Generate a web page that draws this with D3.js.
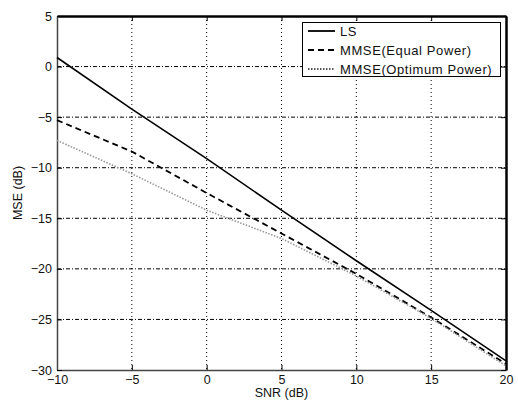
<!DOCTYPE html>
<html><head><meta charset="utf-8">
<script src="https://cdn.jsdelivr.net/npm/d3@7"></script>
<style>body{margin:0;background:#fff}svg{display:block}text{font-family:"Liberation Sans",Arial,sans-serif}</style>
</head><body><svg id="c" width="518" height="401"></svg>
<script>
const snr = [-10, -5, 0, 5, 10, 15, 20];
const mseLS = [0.9, -4.2, -9.1, -14.2, -19.2, -24.1, -29.1];
const mseEqual = [-5.3, -8.4, -12.5, -16.5, -20.5, -24.8, -29.4];
const mseOpt = [-7.3, -10.6, -14.2, -17.0, -20.7, -24.9, -29.6];
const xTicks = [-10, -5, 0, 5, 10, 15, 20];
const yTicks = [5, 0, -5, -10, -15, -20, -25, -30];
const seriesNames = ["LS", "MMSE(Equal Power)", "MMSE(Optimum Power)"];

const svg = d3.select("#c");
const L = 57, R = 506, T = 16, B = 370;
const x = d3.scaleLinear().domain([-10, 20]).range([L, R]);
const y = d3.scaleLinear().domain([-30, 5]).range([B, T]);

// grid
const g = svg.append("g");
g.selectAll(".vg").data(xTicks.slice(1, -1)).join("line")
  .attr("x1", d => x(d)).attr("x2", d => x(d)).attr("y1", T).attr("y2", B)
  .attr("stroke", "#000").attr("stroke-width", 1).attr("stroke-dasharray", "1,3");
g.selectAll(".hg").data(yTicks.slice(1, -1)).join("line")
  .attr("x1", L).attr("x2", R).attr("y1", d => y(d)).attr("y2", d => y(d))
  .attr("stroke", "#000").attr("stroke-width", 1).attr("stroke-dasharray", "4,2,1,2");

const fmt = d => d < 0 ? "\u2212" + Math.abs(d) : d;
// axes with inward ticks
const xa = svg.append("g").attr("transform", `translate(0,${B})`)
  .call(d3.axisBottom(x).tickValues(xTicks).tickSizeInner(-5).tickSizeOuter(0).tickPadding(5).tickFormat(fmt));
xa.select(".domain").attr("stroke", "#444").attr("stroke-width", 1.5);
xa.selectAll(".tick line").attr("stroke", "#000");
xa.selectAll("text").attr("font-size", 12.5).attr("fill", "#111");
const xt = svg.append("g").attr("transform", `translate(0,${T})`)
  .call(d3.axisTop(x).tickValues(xTicks).tickSizeInner(-5).tickSizeOuter(0).tickFormat(""));
xt.select(".domain").attr("stroke", "#000").attr("stroke-width", 2.5);

const ya = svg.append("g").attr("transform", `translate(${L},0)`)
  .call(d3.axisLeft(y).tickValues(yTicks).tickSizeInner(-5).tickSizeOuter(0).tickPadding(5).tickFormat(fmt));
ya.select(".domain").attr("stroke", "#444").attr("stroke-width", 1.5);
ya.selectAll("text").attr("font-size", 12.5).attr("fill", "#111");
const yr = svg.append("g").attr("transform", `translate(${R},0)`)
  .call(d3.axisRight(y).tickValues(yTicks).tickSizeInner(-5).tickSizeOuter(0).tickFormat(""));
yr.select(".domain").attr("stroke", "#000").attr("stroke-width", 2.5);

// lines
const line = d3.line().x((d, i) => x(snr[i])).y(d => y(d));
const styles = [
  {data: mseLS, stroke: "#000", width: 1.6, dash: null},
  {data: mseEqual, stroke: "#000", width: 1.8, dash: "6,4"},
  {data: mseOpt, stroke: "#999", width: 1.6, dash: "1.5,1.5"}
];
styles.forEach(s => {
  svg.append("path").datum(s.data).attr("d", line).attr("fill", "none")
    .attr("stroke", s.stroke).attr("stroke-width", s.width)
    .attr("stroke-dasharray", s.dash);
});

// legend
const lg = svg.append("g");
lg.append("rect").attr("x", 302.5).attr("y", 22.5).attr("width", 198).attr("height", 54)
  .attr("fill", "#fff").attr("stroke", "#000").attr("stroke-width", 1);
const legendStyles = [
  {stroke: "#000", width: 1.8, dash: null},
  {stroke: "#000", width: 2, dash: "6,4"},
  {stroke: "#222", width: 1.4, dash: "1.5,1.5"}
];
seriesNames.forEach((n, i) => {
  const yy = 31 + i * 19;
  lg.append("line").attr("x1", 308).attr("x2", 335).attr("y1", yy).attr("y2", yy)
    .attr("stroke", legendStyles[i].stroke).attr("stroke-width", legendStyles[i].width)
    .attr("stroke-dasharray", legendStyles[i].dash);
  lg.append("text").attr("x", 340).attr("y", yy).attr("dy", "0.35em")
    .attr("font-size", 13).attr("letter-spacing", 0.6).attr("fill", "#111").text(n);
});

// axis labels
svg.append("text").attr("x", (L + R) / 2).attr("y", 397).attr("text-anchor", "middle")
  .attr("font-size", 12.5).attr("fill", "#111").text("SNR (dB)");
svg.append("text").attr("transform", `translate(22,${(T + B) / 2}) rotate(-90)`)
  .attr("text-anchor", "middle").attr("font-size", 12.5).attr("fill", "#111").text("MSE (dB)");
</script></body></html>
